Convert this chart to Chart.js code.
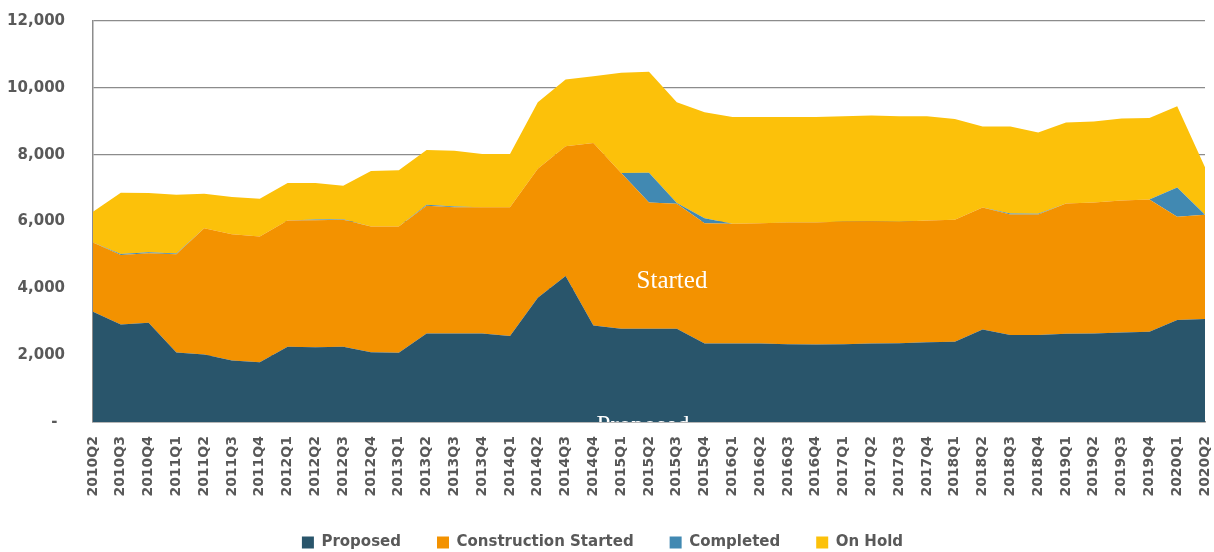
<!DOCTYPE html>
<html>
<head>
<meta charset="utf-8">
<script src="https://cdn.jsdelivr.net/npm/chart.js@4/dist/chart.umd.min.js"></script>
<style>
html,body{margin:0;padding:0;background:#ffffff;}
#wrap{width:1214px;height:552px;position:relative;}
</style>
</head>
<body>
<div id="wrap"><canvas id="c" width="1214" height="552"></canvas></div>
<script>
const quarters = ["2010Q2","2010Q3","2010Q4","2011Q1","2011Q2","2011Q3","2011Q4","2012Q1","2012Q2","2012Q3","2012Q4","2013Q1","2013Q2","2013Q3","2013Q4","2014Q1","2014Q2","2014Q3","2014Q4","2015Q1","2015Q2","2015Q3","2015Q4","2016Q1","2016Q2","2016Q3","2016Q4","2017Q1","2017Q2","2017Q3","2017Q4","2018Q1","2018Q2","2018Q3","2018Q4","2019Q1","2019Q2","2019Q3","2019Q4","2020Q1","2020Q2"];

const proposed = [3300,2920,2970,2080,2020,1840,1790,2250,2240,2250,2090,2070,2650,2650,2650,2570,3720,4370,2890,2790,2790,2790,2350,2350,2350,2330,2320,2330,2350,2360,2390,2400,2770,2600,2600,2640,2650,2680,2700,3050,3080];

const constructionStarted = [2070,2080,2080,2940,3780,3780,3760,3780,3800,3800,3760,3780,3820,3780,3780,3860,3860,3880,5460,4660,3780,3740,3600,3580,3600,3640,3650,3670,3660,3630,3640,3650,3650,3610,3610,3900,3920,3950,3960,3090,3120];

const completed = [0,30,30,20,0,0,0,0,20,20,0,0,30,20,0,0,0,0,0,0,890,20,150,0,0,0,0,0,0,0,0,0,0,30,20,0,0,0,0,880,0];

const onHold = [920,1830,1770,1760,1030,1110,1130,1120,1090,1000,1660,1680,1640,1670,1590,1590,1990,2000,2000,3000,3020,3020,3170,3200,3180,3160,3160,3150,3160,3160,3120,3020,2420,2600,2430,2420,2420,2450,2440,2430,1420];

const seriesNames = ["Proposed","Construction Started","Completed","On Hold"];
const seriesColors = ["#29556B","#F39200","#4189B2","#FCC10A"];
const yTicks = [0,2000,4000,6000,8000,10000,12000];

const textGray = "#595959";
const gridGray = "#8c8c8c";

const areaLabels = {
  id: 'areaLabels',
  afterDatasetsDraw(chart) {
    const {ctx, chartArea} = chart;
    ctx.save();
    ctx.beginPath();
    ctx.rect(chartArea.left, chartArea.top, chartArea.right - chartArea.left, chartArea.bottom - chartArea.top);
    ctx.clip();
    ctx.fillStyle = '#ffffff';
    ctx.font = '25px "Liberation Serif"';
    ctx.textAlign = 'center';
    ctx.textBaseline = 'alphabetic';
    ctx.fillText('Started', 672, 288);
    ctx.fillText('Proposed', 643, 433);
    ctx.restore();
  }
};

const legendShift = {
  id: 'legendShift',
  afterLayout(chart) {
    const l = chart.legend;
    if (l) { l.top -= 3; l.bottom -= 3; }
  }
};

const dataSeries = [proposed, constructionStarted, completed, onHold];

new Chart(document.getElementById('c'), {
  type: 'line',
  data: {
    labels: quarters,
    datasets: dataSeries.map((d, i) => ({
      label: seriesNames[i],
      data: d,
      backgroundColor: seriesColors[i],
      borderColor: seriesColors[i],
      borderWidth: 0,
      pointRadius: 0,
      pointHoverRadius: 0,
      tension: 0,
      fill: i === 0 ? 'origin' : '-1'
    }))
  },
  options: {
    responsive: false,
    animation: false,
    devicePixelRatio: 1,
    layout: { padding: { top: 21, right: 9, bottom: -11, left: 0 } },
    plugins: {
      tooltip: { enabled: false },
      legend: {
        position: 'bottom',
        labels: {
          boxWidth: 12,
          boxHeight: 12,
          padding: 36,
          color: textGray,
          font: { family: '"DejaVu Sans"', size: 15, weight: 'bold' }
        }
      }
    },
    scales: {
      x: {
        offset: false,
        z: 1,
        grid: { display: false, drawTicks: false },
        border: { display: true, color: gridGray, width: 1.5 },
        ticks: {
          autoSkip: false,
          maxRotation: 90,
          minRotation: 90,
          padding: 14,
          color: textGray,
          font: { family: '"DejaVu Sans"', size: 14, weight: 'bold' }
        },
        afterFit(scale) {
          scale.height = 80;
          scale.paddingLeft = 0;
          scale.paddingRight = 0;
        }
      },
      y: {
        stacked: true,
        min: 0,
        max: 12000,
        afterBuildTicks(scale) { scale.ticks = yTicks.map(v => ({ value: v })); },
        grid: { color: gridGray, lineWidth: 1.2, drawTicks: false },
        border: { display: true, color: gridGray, width: 1.5 },
        ticks: {
          padding: 28,
          color: textGray,
          font: { family: '"DejaVu Sans"', size: 15, weight: 'bold' },
          callback: (v) => v === 0 ? '-\u2002' : v.toLocaleString('en-US')
        },
        afterFit(scale) {
          scale.width = 93;
          scale.paddingTop = 0;
          scale.paddingBottom = 0;
        }
      }
    }
  },
  plugins: [areaLabels, legendShift]
});
</script>
</body>
</html>
